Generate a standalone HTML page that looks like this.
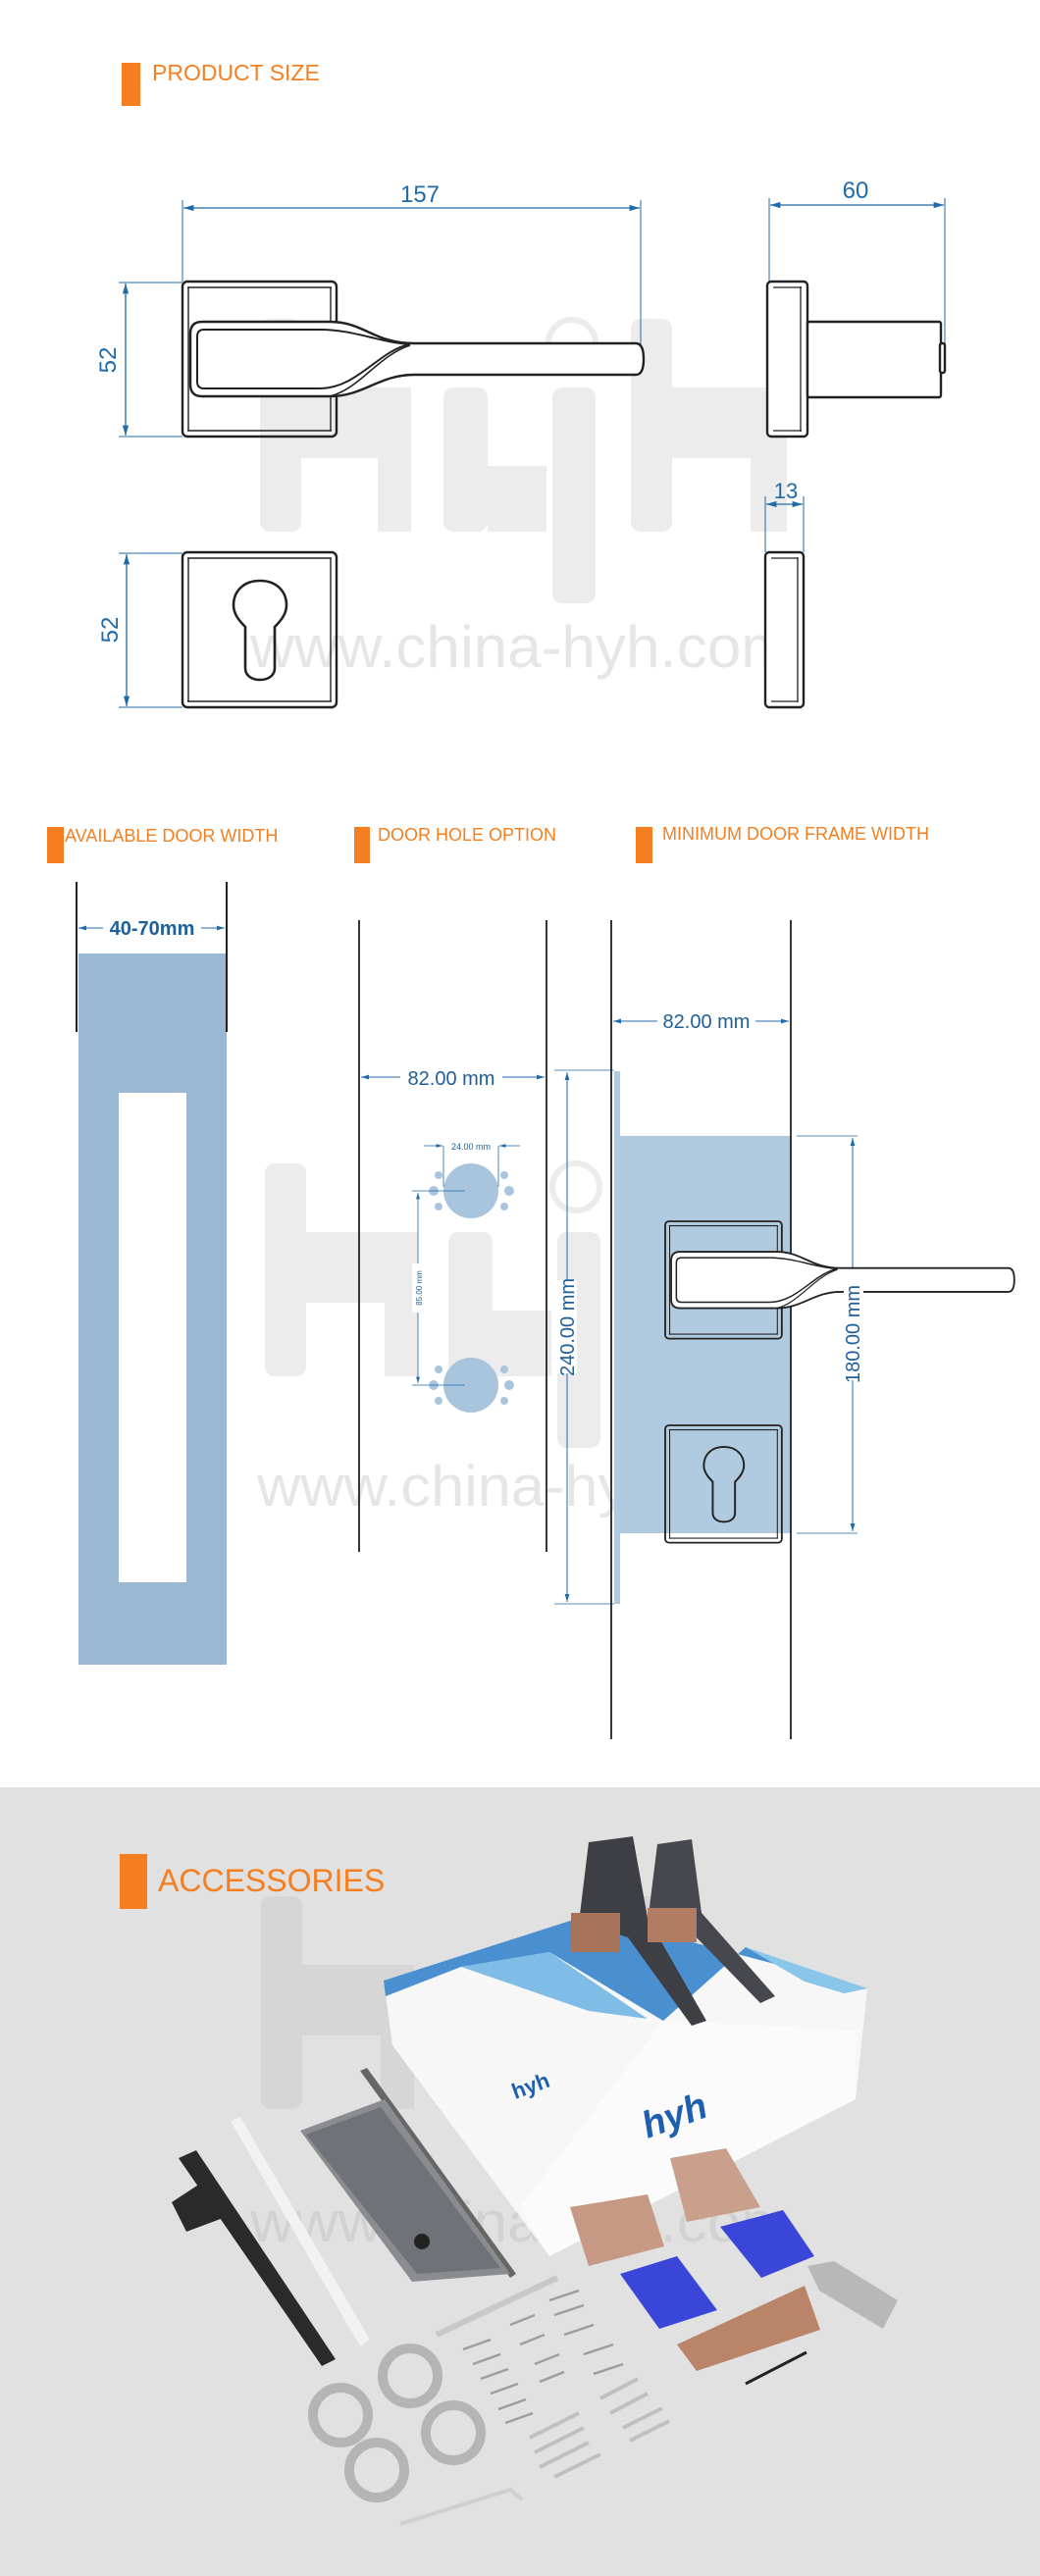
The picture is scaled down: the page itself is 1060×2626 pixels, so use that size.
<!DOCTYPE html>
<html><head><meta charset="utf-8"><style>
html,body{margin:0;padding:0;background:#fff}
svg{display:block}
text{font-family:"Liberation Sans",Arial,sans-serif}
</style></head><body>
<svg width="1060" height="2626" viewBox="0 0 1060 2626" xmlns="http://www.w3.org/2000/svg">
<defs>
<marker id="ar" viewBox="0 0 10 10" refX="10" refY="5" markerWidth="8" markerHeight="8" orient="auto-start-reverse"><path d="M0,2 L10,5 L0,8 Z" fill="#1f6aa8"/></marker>
<g id="handle" fill="none" stroke="#222" stroke-width="2.4">
<rect x="0" y="0" width="157" height="158" rx="5"/>
<line x1="5" y1="6" x2="152" y2="6" stroke-width="1.4"/>
<line x1="5" y1="152" x2="152" y2="152" stroke-width="1.4"/>
<line x1="6" y1="6" x2="6" y2="152" stroke-width="1.4"/>
<line x1="151" y1="6" x2="151" y2="152" stroke-width="1.4"/>
<path d="M20 41 H150 C185 41,195 63,236 63 H462 Q470 63 470 79 Q470 95 462 95 H236 C200 95,185 117,150 117 H20 Q8 117 8 105 V53 Q8 41 20 41 Z" fill="#fff"/>
<path d="M22 49 H140 C175 49,200 62,232 64 C200 70,178 109,140 109 H22 Q15 109 15 102 V56 Q15 49 22 49 Z" stroke-width="2"/>
<path d="M150 117 C180 110,200 75,232 65" stroke-width="1.6"/>
</g>
<g id="rose" fill="none" stroke="#222" stroke-width="2.4">
<rect x="0" y="0" width="157" height="158" rx="5"/>
<line x1="5" y1="6" x2="152" y2="6" stroke-width="1.4"/>
<line x1="5" y1="152" x2="152" y2="152" stroke-width="1.4"/>
<line x1="6" y1="6" x2="6" y2="152" stroke-width="1.4"/>
<line x1="151" y1="6" x2="151" y2="152" stroke-width="1.4"/>
<path d="M79 29 C62 29,52 40,52 54 C52 63,58 70,64 76 V118 C64 126,71 130,79 130 C87 130,94 126,94 118 V76 C100 70,106 63,106 54 C106 40,96 29,79 29 Z" stroke-width="2.6"/>
</g>
</defs>

<!-- ===== Section 1 ===== -->
<g fill="#ececec">
<rect x="265" y="325" width="42" height="217" rx="10"/>
<rect x="307" y="395" width="80" height="72"/>
<rect x="385" y="395" width="34" height="147"/>
<rect x="452" y="395" width="45" height="147" rx="10"/>
<rect x="497" y="475" width="60" height="67"/>
<rect x="563" y="395" width="44" height="220" rx="10"/>
<rect x="643" y="325" width="42" height="217" rx="10"/>
<rect x="685" y="395" width="80" height="72"/>
<rect x="765" y="395" width="37" height="147"/>
</g>
<circle cx="583" cy="350" r="24" fill="none" stroke="#ececec" stroke-width="6"/>
<text x="255" y="680" font-size="60" fill="#e6e6e6" textLength="552" lengthAdjust="spacingAndGlyphs">www.china-hyh.com</text>

<rect x="124" y="64" width="19" height="44" fill="#f57f20"/>
<text x="155" y="82" font-size="23" fill="#f57f20">PRODUCT SIZE</text>

<!-- 157 dim -->
<line x1="186" y1="204" x2="186" y2="287" stroke="#1f6aa8" stroke-width="1"/>
<line x1="653" y1="204" x2="653" y2="360" stroke="#1f6aa8" stroke-width="1"/>
<line x1="187" y1="212" x2="652" y2="212" stroke="#1f6aa8" stroke-width="1.3" marker-start="url(#ar)" marker-end="url(#ar)"/>
<text x="428" y="206" font-size="24" fill="#1f6aa8" text-anchor="middle">157</text>
<!-- left 52 -->
<line x1="121" y1="288" x2="186" y2="288" stroke="#1f6aa8" stroke-width="1"/>
<line x1="121" y1="445" x2="186" y2="445" stroke="#1f6aa8" stroke-width="1"/>
<line x1="128" y1="289" x2="128" y2="444" stroke="#1f6aa8" stroke-width="1.3" marker-start="url(#ar)" marker-end="url(#ar)"/>
<text transform="translate(118,367) rotate(-90)" font-size="24" fill="#1f6aa8" text-anchor="middle">52</text>
<use href="#handle" x="186" y="287"/>

<!-- side view -->
<line x1="784" y1="202" x2="784" y2="287" stroke="#1f6aa8" stroke-width="1"/>
<line x1="963" y1="202" x2="963" y2="368" stroke="#1f6aa8" stroke-width="1"/>
<line x1="785" y1="209" x2="962" y2="209" stroke="#1f6aa8" stroke-width="1.3" marker-start="url(#ar)" marker-end="url(#ar)"/>
<text x="872" y="202" font-size="24" fill="#1f6aa8" text-anchor="middle">60</text>
<g fill="#fff" stroke="#222" stroke-width="2.4">
<rect x="782" y="287" width="41" height="158" rx="4"/>
<rect x="823" y="328" width="136" height="77" rx="2"/>
<rect x="958" y="350" width="5" height="30" rx="2"/>
</g>
<line x1="788" y1="293" x2="817" y2="293" stroke="#222" stroke-width="1.3"/>
<line x1="788" y1="439" x2="817" y2="439" stroke="#222" stroke-width="1.3"/>
<line x1="816" y1="292" x2="816" y2="440" stroke="#222" stroke-width="1.3"/>

<!-- bottom rose -->
<line x1="121" y1="564" x2="186" y2="564" stroke="#1f6aa8" stroke-width="1"/>
<line x1="121" y1="721" x2="186" y2="721" stroke="#1f6aa8" stroke-width="1"/>
<line x1="129" y1="565" x2="129" y2="720" stroke="#1f6aa8" stroke-width="1.3" marker-start="url(#ar)" marker-end="url(#ar)"/>
<text transform="translate(120,642) rotate(-90)" font-size="24" fill="#1f6aa8" text-anchor="middle">52</text>
<use href="#rose" x="186" y="563"/>

<!-- 13 -->
<line x1="780" y1="506" x2="780" y2="563" stroke="#1f6aa8" stroke-width="1"/>
<line x1="819" y1="506" x2="819" y2="563" stroke="#1f6aa8" stroke-width="1"/>
<line x1="781" y1="514" x2="818" y2="514" stroke="#1f6aa8" stroke-width="1.3" marker-start="url(#ar)" marker-end="url(#ar)"/>
<text x="801" y="508" font-size="22" fill="#1f6aa8" text-anchor="middle">13</text>
<g fill="#fff" stroke="#222" stroke-width="2.4"><rect x="780" y="563" width="39" height="158" rx="4"/></g>
<line x1="786" y1="569" x2="813" y2="569" stroke="#222" stroke-width="1.3"/>
<line x1="786" y1="715" x2="813" y2="715" stroke="#222" stroke-width="1.3"/>
<line x1="813" y1="568" x2="813" y2="716" stroke="#222" stroke-width="1.3"/>

<!-- ===== Section 2 ===== -->
<g fill="#ececec">
<rect x="270" y="1186" width="42" height="217" rx="10"/>
<rect x="312" y="1256" width="80" height="72"/>
<rect x="392" y="1256" width="34" height="147"/>
<rect x="457" y="1256" width="45" height="147" rx="10"/>
<rect x="502" y="1336" width="60" height="67"/>
<rect x="568" y="1256" width="44" height="220" rx="10"/>
<rect x="648" y="1186" width="42" height="217" rx="10"/>
<rect x="690" y="1256" width="80" height="72"/>
<rect x="770" y="1256" width="37" height="147"/>
</g>
<circle cx="587" cy="1210" r="24" fill="none" stroke="#ececec" stroke-width="6"/>
<text x="262" y="1535" font-size="58" fill="#e6e6e6" textLength="545" lengthAdjust="spacingAndGlyphs">www.china-hyh.com</text>

<rect x="48" y="843" width="17" height="37" fill="#f57f20"/>
<text x="66" y="858" font-size="18" fill="#f57f20">AVAILABLE DOOR WIDTH</text>
<rect x="361" y="843" width="16" height="37" fill="#f57f20"/>
<text x="385" y="857" font-size="18" fill="#f57f20">DOOR HOLE OPTION</text>
<rect x="648" y="843" width="17" height="37" fill="#f57f20"/>
<text x="675" y="856" font-size="18" fill="#f57f20">MINIMUM DOOR FRAME WIDTH</text>

<!-- door width -->
<rect x="80" y="972" width="151" height="725" fill="#9ab8d2"/>
<rect x="121" y="1114" width="69" height="499" fill="#fff"/>
<line x1="78" y1="899" x2="78" y2="1052" stroke="#222" stroke-width="2"/>
<line x1="231" y1="899" x2="231" y2="1052" stroke="#222" stroke-width="2"/>
<line x1="80" y1="946" x2="105" y2="946" stroke="#1f6aa8" stroke-width="1" marker-start="url(#ar)"/>
<line x1="205" y1="946" x2="229" y2="946" stroke="#1f6aa8" stroke-width="1" marker-end="url(#ar)"/>
<text x="155" y="953" font-size="20" font-weight="bold" fill="#1f5f9a" text-anchor="middle">40-70mm</text>

<!-- door hole -->
<line x1="366" y1="938" x2="366" y2="1582" stroke="#222" stroke-width="1.8"/>
<line x1="557" y1="938" x2="557" y2="1582" stroke="#222" stroke-width="1.8"/>
<line x1="368" y1="1098" x2="408" y2="1098" stroke="#1f6aa8" stroke-width="1" marker-start="url(#ar)"/>
<line x1="512" y1="1098" x2="555" y2="1098" stroke="#1f6aa8" stroke-width="1" marker-end="url(#ar)"/>
<text x="460" y="1106" font-size="20" fill="#1f5f9a" text-anchor="middle">82.00 mm</text>
<g fill="#a9c5de">
<circle cx="480" cy="1214" r="28"/><circle cx="480" cy="1412" r="28"/>
<circle cx="447" cy="1198" r="4"/><circle cx="447" cy="1230" r="4"/><circle cx="442" cy="1214" r="5"/>
<circle cx="514" cy="1198" r="4"/><circle cx="514" cy="1230" r="4"/><circle cx="519" cy="1214" r="5"/>
<circle cx="447" cy="1396" r="4"/><circle cx="447" cy="1428" r="4"/><circle cx="442" cy="1412" r="5"/>
<circle cx="514" cy="1396" r="4"/><circle cx="514" cy="1428" r="4"/><circle cx="519" cy="1412" r="5"/>
</g>
<line x1="452" y1="1168" x2="452" y2="1210" stroke="#1f6aa8" stroke-width="0.8"/>
<line x1="508" y1="1168" x2="508" y2="1210" stroke="#1f6aa8" stroke-width="0.8"/>
<line x1="432" y1="1168" x2="451" y2="1168" stroke="#1f6aa8" stroke-width="0.8" marker-end="url(#ar)"/>
<line x1="509" y1="1168" x2="530" y2="1168" stroke="#1f6aa8" stroke-width="0.8" marker-start="url(#ar)"/>
<text x="480" y="1172" font-size="9" fill="#1f5f9a" text-anchor="middle">24.00 mm</text>
<line x1="420" y1="1214" x2="474" y2="1214" stroke="#1f6aa8" stroke-width="0.8"/>
<line x1="420" y1="1412" x2="474" y2="1412" stroke="#1f6aa8" stroke-width="0.8"/>
<line x1="426" y1="1216" x2="426" y2="1410" stroke="#1f6aa8" stroke-width="0.8" marker-start="url(#ar)" marker-end="url(#ar)"/>
<rect x="420" y="1288" width="12" height="50" fill="#fff"/>
<text transform="translate(430,1313) rotate(-90)" font-size="8" fill="#1f5f9a" text-anchor="middle">85.00 mm</text>

<!-- frame -->
<rect x="626" y="1092" width="6" height="543" fill="#b0cbe0"/>
<rect x="626" y="1158" width="180" height="405" fill="#b0cbe0"/>
<line x1="565" y1="1091" x2="626" y2="1091" stroke="#1f6aa8" stroke-width="0.8"/>
<line x1="565" y1="1635" x2="626" y2="1635" stroke="#1f6aa8" stroke-width="0.8"/>
<line x1="578" y1="1093" x2="578" y2="1633" stroke="#1f6aa8" stroke-width="1" marker-start="url(#ar)" marker-end="url(#ar)"/>
<rect x="568" y="1305" width="20" height="95" fill="#fff"/>
<text transform="translate(585,1353) rotate(-90)" font-size="20" fill="#1f5f9a" text-anchor="middle">240.00 mm</text>
<line x1="623" y1="938" x2="623" y2="1773" stroke="#222" stroke-width="1.8"/>
<line x1="806" y1="938" x2="806" y2="1773" stroke="#222" stroke-width="1.8"/>
<line x1="625" y1="1041" x2="670" y2="1041" stroke="#1f6aa8" stroke-width="1" marker-start="url(#ar)"/>
<line x1="770" y1="1041" x2="804" y2="1041" stroke="#1f6aa8" stroke-width="1" marker-end="url(#ar)"/>
<text x="720" y="1048" font-size="20" fill="#1f5f9a" text-anchor="middle">82.00 mm</text>
<line x1="812" y1="1158" x2="874" y2="1158" stroke="#1f6aa8" stroke-width="0.8"/>
<line x1="812" y1="1563" x2="874" y2="1563" stroke="#1f6aa8" stroke-width="0.8"/>
<line x1="869" y1="1160" x2="869" y2="1561" stroke="#1f6aa8" stroke-width="1" marker-start="url(#ar)" marker-end="url(#ar)"/>
<use href="#handle" transform="translate(678,1245) scale(0.757)"/>
<rect x="860" y="1312" width="20" height="95" fill="#fff"/>
<text transform="translate(876,1360) rotate(-90)" font-size="20" fill="#1f5f9a" text-anchor="middle">180.00 mm</text>
<g transform="translate(678,1453) scale(0.757)"><rect x="0" y="0" width="157" height="158" fill="none"/><use href="#rose"/></g>

<!-- ===== Section 3 ===== -->
<rect x="0" y="1822" width="1060" height="804" fill="#e1e1e1"/>
<g fill="#d6d6d6">
<rect x="266" y="1933" width="42" height="217" rx="10"/>
<rect x="308" y="2003" width="80" height="72"/>
<rect x="388" y="2003" width="34" height="147"/>
<rect x="565" y="2003" width="44" height="220" rx="10"/>
<rect x="645" y="1933" width="42" height="217" rx="10"/>
<rect x="765" y="2003" width="37" height="147"/>
</g>
<text x="255" y="2285" font-size="58" fill="#d2d2d2" textLength="552" lengthAdjust="spacingAndGlyphs">www.china-hyh.com</text>
<rect x="122" y="1890" width="28" height="56" fill="#f57f20"/>
<text x="161" y="1928" font-size="32" fill="#f57f20">ACCESSORIES</text>

<!-- box -->
<polygon points="391,2019 600,1952 884,2027 872,2140 560,2300 400,2085" fill="#f7f7f7"/>
<polygon points="391,2019 600,1952 884,2027 860,2032 760,1985 676,2060 560,1990 470,2005 393,2035" fill="#4a90d0"/>
<polygon points="470,2005 560,1990 660,2058 600,2050" fill="#7fbde6"/>
<polygon points="760,1985 884,2027 860,2032 820,2020" fill="#8ac6ea"/>
<polygon points="676,2060 872,2070 872,2140 560,2300 530,2250" fill="#fbfbfb"/>
<text transform="translate(525,2140) rotate(-20)" font-size="22" font-weight="bold" fill="#1f5fb0">hyh</text>
<text transform="translate(660,2180) rotate(-20)" font-size="38" font-weight="bold" font-style="italic" fill="#1f5fb0">hyh</text>
<!-- handles -->
<polygon points="600,1878 645,1872 660,1955 720,2060 705,2065 640,1975 590,1960" fill="#3d3f44"/>
<polygon points="670,1880 705,1875 715,1950 790,2035 775,2042 700,1965 660,1960" fill="#46484d"/>
<rect x="582" y="1950" width="50" height="40" fill="#a7735b"/>
<rect x="660" y="1945" width="50" height="35" fill="#b07c62"/>
<!-- strike plate -->
<polygon points="182,2200 200,2192 342,2405 328,2412" fill="#2a2a2a"/>
<polygon points="175,2245 210,2222 230,2260 190,2275" fill="#2a2a2a"/>
<!-- faceplate white -->
<polygon points="235,2162 245,2158 377,2385 367,2392" fill="#f2f2f2"/>
<!-- lock body -->
<polygon points="367,2111 374,2108 526,2318 520,2322" fill="#666"/>
<polygon points="306,2172 392,2140 520,2318 420,2326" fill="#8a8c90"/>
<polygon points="312,2176 388,2148 510,2312 425,2318" fill="#6f7276"/>
<circle cx="430" cy="2285" r="8" fill="#222"/>
<!-- roses copper -->
<polygon points="581,2250 660,2237 677,2290 600,2310" fill="#c59984"/>
<polygon points="683,2200 740,2190 775,2250 700,2265" fill="#c8a08c"/>
<!-- blue pads -->
<polygon points="632,2318 690,2300 731,2355 672,2374" fill="#3a46d8"/>
<polygon points="734,2270 798,2253 830,2300 776,2322" fill="#3a46d8"/>
<!-- cylinder -->
<polygon points="690,2390 820,2330 836,2375 710,2417" fill="#b98468"/>
<polygon points="823,2310 850,2305 915,2345 900,2374 835,2335" fill="#b8b8b8"/>
<line x1="760" y1="2430" x2="822" y2="2398" stroke="#222" stroke-width="3"/>
<!-- rings -->
<g fill="none" stroke="#b5b5b5" stroke-width="10">
<circle cx="418" cy="2422" r="28"/><circle cx="347" cy="2462" r="28"/>
<circle cx="462" cy="2480" r="28"/><circle cx="384" cy="2518" r="28"/>
</g>
<!-- bar & screws -->
<line x1="445" y1="2380" x2="568" y2="2322" stroke="#c8c8c8" stroke-width="6"/>
<g stroke="#9e9e9e" stroke-width="2.5">
<line x1="472" y1="2395" x2="500" y2="2385"/><line x1="482" y1="2410" x2="510" y2="2400"/>
<line x1="490" y1="2425" x2="518" y2="2415"/><line x1="500" y1="2440" x2="528" y2="2430"/>
<line x1="508" y1="2456" x2="536" y2="2446"/><line x1="515" y1="2470" x2="543" y2="2460"/>
<line x1="520" y1="2370" x2="545" y2="2360"/><line x1="530" y1="2390" x2="555" y2="2380"/>
<line x1="545" y1="2410" x2="570" y2="2400"/><line x1="550" y1="2428" x2="575" y2="2418"/>
<line x1="560" y1="2345" x2="590" y2="2335"/><line x1="565" y1="2360" x2="595" y2="2350"/>
<line x1="575" y1="2380" x2="605" y2="2370"/><line x1="595" y1="2400" x2="625" y2="2390"/>
<line x1="605" y1="2420" x2="635" y2="2410"/>
</g>
<g stroke="#c0c0c0" stroke-width="4">
<line x1="540" y1="2485" x2="590" y2="2460"/><line x1="545" y1="2500" x2="595" y2="2475"/>
<line x1="550" y1="2515" x2="600" y2="2490"/><line x1="565" y1="2525" x2="612" y2="2502"/>
<line x1="612" y1="2445" x2="650" y2="2425"/><line x1="622" y1="2460" x2="660" y2="2440"/>
<line x1="635" y1="2475" x2="675" y2="2455"/><line x1="642" y1="2488" x2="682" y2="2468"/>
</g>
<polyline points="408,2573 520,2538 532,2548" fill="none" stroke="#cfcfcf" stroke-width="4"/>
</svg>
</body></html>
